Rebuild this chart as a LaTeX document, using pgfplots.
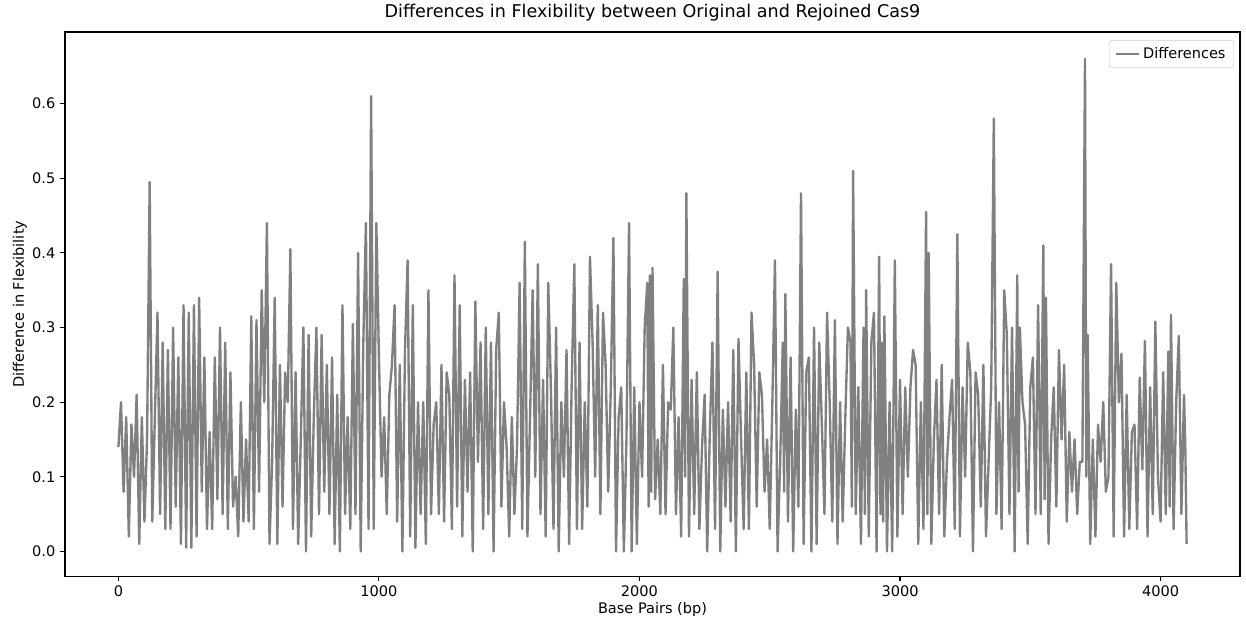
\documentclass[border=0pt]{standalone}
\usepackage{pgfplots}
\pgfplotsset{compat=1.18}
\usepackage{fontspec}
\setmainfont{DejaVu Sans}

\begin{document}
\begin{tikzpicture}
\begin{axis}[
    scale only axis,
    width=29.85cm, height=13.82cm,
    xmin=-205, xmax=4305,
    ymin=-0.033, ymax=0.696,
    xtick={0,1000,2000,3000,4000},
    ytick={0,0.1,0.2,0.3,0.4,0.5,0.6},
    yticklabel style={/pgf/number format/fixed,/pgf/number format/fixed zerofill,/pgf/number format/precision=1},
    xticklabel style={/pgf/number format/1000 sep={}},
    /pgf/number format/assume math mode=true,
    tick align=outside, xtick pos=bottom, ytick pos=left,
    major tick length=3.5pt,
    every tick/.style={black, line width=0.8pt},
    axis line style={line width=0.8pt},
    tick label style={font=\fontsize{10.5}{12}\selectfont},
    label style={font=\fontsize{10.5}{12}\selectfont},
    title style={font=\fontsize{12.7}{15}\selectfont, yshift=-2pt},
    title={Differences in Flexibility between Original and Rejoined Cas9},
    xlabel={Base Pairs (bp)},
    ylabel={Difference in Flexibility},
    xlabel style={yshift=3pt},
    ylabel style={yshift=-3pt},
    legend style={at={(0.995,0.985)}, anchor=north east, draw=black!20, rounded corners=2pt,
        font=\fontsize{10.5}{12}\selectfont, inner xsep=4pt, inner ysep=3pt},
    legend image code/.code={\draw[#1, line width=1.5pt] (0cm,0cm) -- (0.6cm,0cm);},
    legend cell align=left,
]
\addplot[color={rgb,255:red,128;green,128;blue,128}, line width=1.7pt, line join=round] coordinates {
(0,0.14)(10,0.20)(20,0.08)(30,0.18)(40,0.02)(50,0.17)(60,0.10)(70,0.21)(80,0.01)(90,0.18)
(100,0.04)(110,0.15)(120,0.495)(130,0.04)(140,0.18)(150,0.32)(160,0.05)(170,0.28)(180,0.03)(190,0.27)
(200,0.03)(210,0.30)(220,0.06)(230,0.26)(240,0.01)(250,0.33)(260,0.005)(270,0.32)(280,0.005)(290,0.33)
(300,0.02)(310,0.34)(320,0.08)(330,0.26)(340,0.03)(350,0.16)(360,0.03)(370,0.26)(380,0.07)(390,0.30)
(400,0.05)(410,0.28)(420,0.03)(430,0.24)(440,0.06)(450,0.10)(460,0.02)(470,0.20)(480,0.04)(490,0.15)
(500,0.04)(510,0.315)(520,0.03)(530,0.31)(540,0.08)(550,0.35)(560,0.20)(570,0.44)(580,0.01)(590,0.12)
(600,0.34)(610,0.01)(620,0.25)(630,0.06)(640,0.24)(650,0.20)(660,0.405)(670,0.03)(680,0.24)(690,0.01)
(700,0.15)(710,0.30)(720,0.00)(730,0.29)(740,0.02)(750,0.18)(760,0.30)(770,0.05)(780,0.29)(790,0.08)
(800,0.25)(810,0.05)(820,0.26)(830,0.01)(840,0.21)(850,0.00)(860,0.33)(870,0.05)(880,0.18)(890,0.03)
(900,0.305)(910,0.05)(920,0.40)(930,0.00)(940,0.28)(950,0.44)(960,0.03)(970,0.61)(980,0.03)(990,0.44)
(1000,0.26)(1010,0.10)(1020,0.18)(1030,0.05)(1040,0.21)(1050,0.25)(1060,0.33)(1070,0.04)(1080,0.25)(1090,0.00)
(1100,0.27)(1110,0.39)(1120,0.02)(1130,0.33)(1140,0.005)(1150,0.20)(1160,0.05)(1170,0.20)(1180,0.01)(1190,0.35)
(1200,0.05)(1210,0.17)(1220,0.20)(1230,0.05)(1240,0.25)(1250,0.04)(1260,0.24)(1270,0.21)(1280,0.03)(1290,0.37)
(1300,0.06)(1310,0.33)(1320,0.02)(1330,0.23)(1340,0.08)(1350,0.24)(1360,0.00)(1370,0.335)(1380,0.12)(1390,0.28)
(1400,0.03)(1410,0.30)(1420,0.05)(1430,0.28)(1440,0.00)(1450,0.27)(1460,0.32)(1470,0.06)(1480,0.20)(1490,0.14)
(1500,0.02)(1510,0.18)(1520,0.05)(1530,0.14)(1540,0.36)(1550,0.03)(1560,0.415)(1570,0.02)(1580,0.18)(1590,0.35)
(1600,0.10)(1610,0.385)(1620,0.05)(1630,0.23)(1640,0.02)(1650,0.36)(1660,0.22)(1670,0.03)(1680,0.30)(1690,0.00)
(1700,0.20)(1710,0.10)(1720,0.27)(1730,0.01)(1740,0.23)(1750,0.385)(1760,0.03)(1770,0.28)(1780,0.03)(1790,0.20)
(1800,0.06)(1810,0.395)(1820,0.28)(1830,0.10)(1840,0.33)(1850,0.05)(1860,0.32)(1870,0.25)(1880,0.08)(1890,0.22)
(1900,0.42)(1910,0.00)(1920,0.18)(1930,0.22)(1940,0.00)(1950,0.15)(1960,0.44)(1970,0.00)(1980,0.22)(1990,0.01)
(2000,0.20)(2010,0.10)(2020,0.30)(2030,0.36)(2035,0.06)(2040,0.37)(2045,0.08)(2050,0.38)(2060,0.07)(2070,0.15)(2080,0.05)(2090,0.25)
(2100,0.05)(2110,0.20)(2120,0.19)(2130,0.30)(2140,0.05)(2150,0.18)(2160,0.02)(2170,0.365)(2175,0.10)(2180,0.48)(2190,0.02)
(2200,0.23)(2210,0.05)(2220,0.24)(2230,0.03)(2240,0.14)(2250,0.21)(2260,0.00)(2270,0.16)(2280,0.28)(2290,0.03)
(2300,0.375)(2310,0.00)(2320,0.19)(2330,0.06)(2340,0.20)(2350,0.04)(2360,0.27)(2370,0.00)(2380,0.285)(2390,0.15)
(2400,0.03)(2410,0.24)(2420,0.03)(2430,0.32)(2440,0.25)(2450,0.06)(2460,0.24)(2470,0.21)(2480,0.08)(2490,0.15)
(2500,0.03)(2510,0.20)(2520,0.39)(2530,0.00)(2540,0.12)(2550,0.28)(2555,0.08)(2560,0.345)(2570,0.04)(2580,0.26)(2590,0.00)
(2600,0.19)(2610,0.06)(2620,0.48)(2630,0.01)(2640,0.24)(2650,0.26)(2660,0.00)(2670,0.30)(2680,0.01)(2690,0.28)
(2700,0.17)(2710,0.05)(2720,0.32)(2730,0.20)(2740,0.04)(2750,0.31)(2760,0.01)(2770,0.20)(2780,0.04)(2790,0.18)
(2800,0.30)(2810,0.28)(2815,0.06)(2820,0.51)(2830,0.05)(2840,0.22)(2850,0.01)(2860,0.30)(2865,0.05)(2870,0.35)(2880,0.02)(2890,0.28)
(2900,0.32)(2910,0.00)(2920,0.395)(2925,0.05)(2930,0.28)(2935,0.04)(2940,0.315)(2950,0.00)(2960,0.20)(2970,0.00)(2980,0.39)(2990,0.02)
(3000,0.23)(3010,0.05)(3020,0.22)(3030,0.10)(3040,0.22)(3050,0.27)(3060,0.25)(3070,0.01)(3080,0.20)(3090,0.03)
(3100,0.455)(3105,0.05)(3110,0.40)(3120,0.01)(3130,0.15)(3140,0.23)(3150,0.05)(3160,0.25)(3170,0.02)(3180,0.12)(3190,0.18)
(3200,0.23)(3210,0.03)(3220,0.425)(3230,0.02)(3240,0.22)(3250,0.10)(3260,0.28)(3270,0.24)(3280,0.00)(3290,0.24)
(3300,0.21)(3310,0.06)(3320,0.25)(3330,0.02)(3340,0.12)(3350,0.22)(3360,0.58)(3370,0.05)(3380,0.20)(3390,0.03)
(3400,0.35)(3410,0.29)(3420,0.05)(3430,0.30)(3440,0.00)(3450,0.37)(3455,0.08)(3460,0.30)(3470,0.20)(3480,0.17)(3490,0.01)
(3500,0.22)(3510,0.26)(3520,0.05)(3530,0.33)(3540,0.05)(3550,0.41)(3555,0.07)(3560,0.34)(3570,0.01)(3580,0.15)(3590,0.22)
(3600,0.06)(3610,0.27)(3620,0.15)(3630,0.25)(3640,0.04)(3650,0.16)(3660,0.08)(3670,0.15)(3680,0.05)(3690,0.12)
(3700,0.12)(3710,0.66)(3715,0.10)(3720,0.29)(3730,0.01)(3740,0.15)(3750,0.02)(3760,0.17)(3770,0.12)(3780,0.20)(3790,0.08)
(3800,0.10)(3810,0.385)(3820,0.02)(3830,0.36)(3840,0.20)(3850,0.265)(3860,0.02)(3870,0.21)(3880,0.03)(3890,0.16)
(3900,0.17)(3910,0.03)(3920,0.233)(3930,0.11)(3940,0.282)(3950,0.02)(3960,0.22)(3970,0.05)(3980,0.308)(3990,0.10)
(4000,0.04)(4010,0.24)(4020,0.05)(4030,0.268)(4035,0.06)(4040,0.317)(4050,0.03)(4060,0.20)(4070,0.289)(4080,0.05)(4090,0.21)
(4095,0.14)(4100,0.01)
};
\addlegendentry{Differences}
\end{axis}
\path ([shift={(-1.651cm,-1.194cm)}]current axis.south west) rectangle ([shift={(0.152cm,0.813cm)}]current axis.north east);
\end{tikzpicture}
\end{document}
